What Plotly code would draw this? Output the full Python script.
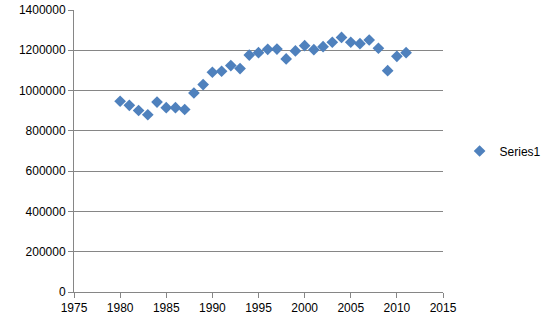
import plotly.graph_objects as go

years = list(range(1980, 2012))
values = [947000, 927000, 901000, 880000, 943000, 915000, 915000, 906000,
          988000, 1030000, 1091000, 1096000, 1124000, 1109000, 1176000, 1188000,
          1205000, 1206000, 1157000, 1197000, 1223000, 1203000, 1218000, 1240000,
          1264000, 1240000, 1233000, 1251000, 1210000, 1099000, 1170000, 1188000]
series_name = "Series1"

fig = go.Figure()
fig.add_trace(go.Scatter(
    x=years, y=values, mode="markers", name=series_name,
    marker=dict(symbol="diamond", size=9, color="#4F81BD"),
    showlegend=True,
))

axis_font = dict(family="Liberation Sans, Arial, sans-serif", size=12, color="#000000")
fig.update_layout(
    width=552, height=324,
    margin=dict(l=74, r=109, t=10, b=32, autoexpand=False),
    paper_bgcolor="white", plot_bgcolor="white",
    font=axis_font,
    showlegend=True,
    legend=dict(x=1.045, y=0.5, xanchor="left", yanchor="middle",
                font=dict(size=12), itemwidth=30, bgcolor="rgba(0,0,0,0)"),
    xaxis=dict(range=[1975, 2015], dtick=5, tick0=1975, showgrid=False,
               showline=True, linecolor="#868686", linewidth=1,
               ticks="outside", ticklen=5, tickcolor="#868686",
               zeroline=False, tickfont=axis_font, automargin=False),
    yaxis=dict(range=[0, 1400000], dtick=200000, showgrid=True,
               gridcolor="#868686", gridwidth=1,
               showline=True, linecolor="#868686", linewidth=1,
               ticks="outside", ticklen=5, tickcolor="#868686",
               zeroline=False, tickformat="d", tickfont=axis_font, automargin=False),
)

fig.write_html("out.html")
